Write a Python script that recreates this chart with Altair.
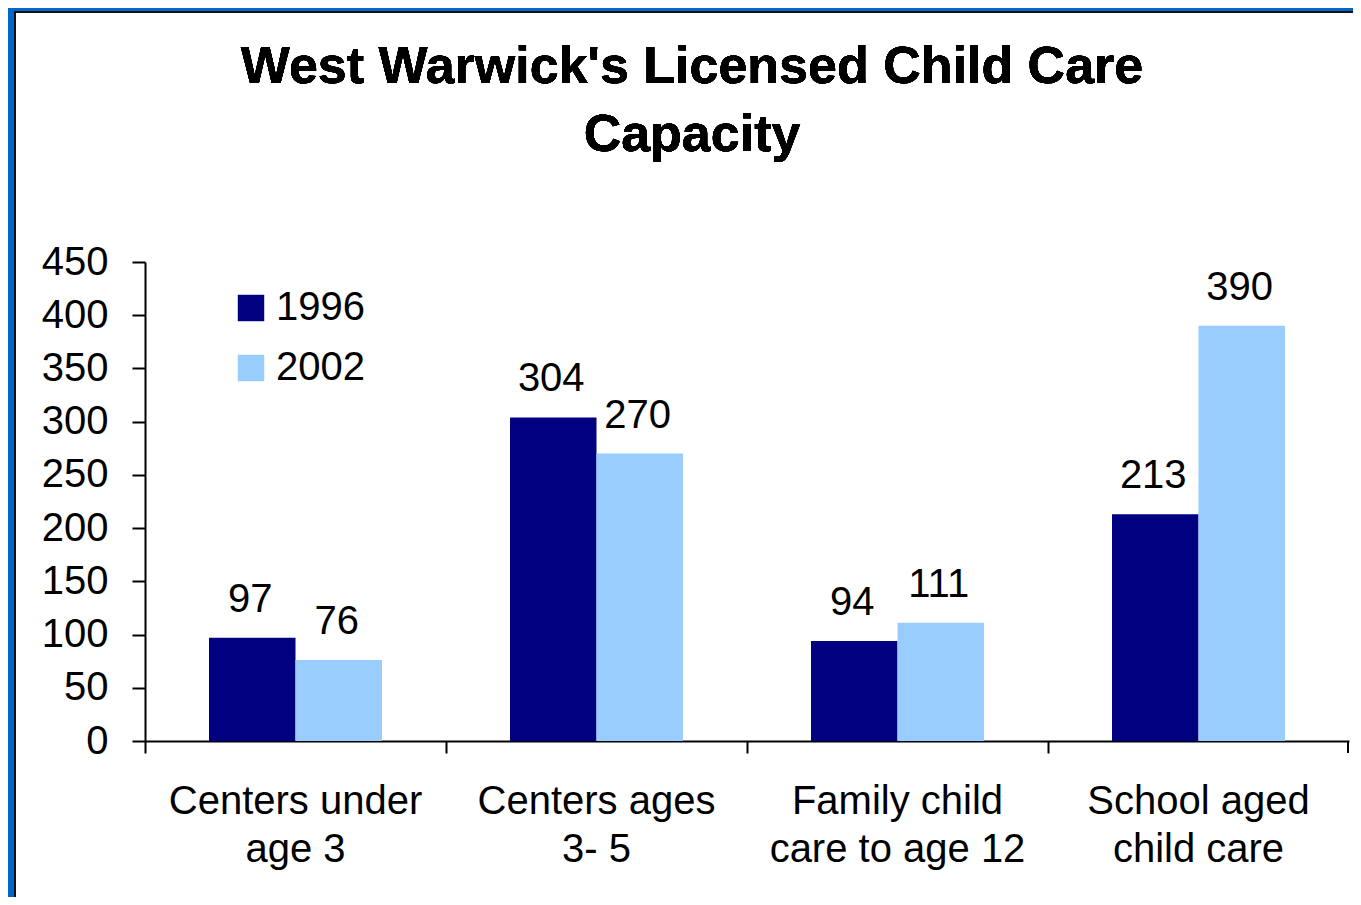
import altair as alt
import pandas as pd

title_lines = ["West Warwick's Licensed Child Care", "Capacity"]
categories = ["Centers under\nage 3", "Centers ages\n3- 5", "Family child\ncare to age 12", "School aged\nchild care"]
years = ["1996", "2002"]
values_1996 = [97, 304, 94, 213]
values_2002 = [76, 270, 111, 390]
y_ticks = [0, 50, 100, 150, 200, 250, 300, 350, 400, 450]
colors = ["#000080", "#99CCFF"]

rows = []
for c, v in zip(categories, values_1996):
    rows.append({"category": c, "year": "1996", "value": v})
for c, v in zip(categories, values_2002):
    rows.append({"category": c, "year": "2002", "value": v})
df = pd.DataFrame(rows)

FONT = "Liberation Sans"
W, H = 1204, 479

x_enc = alt.X("category:N", sort=categories, title=None,
              scale=alt.Scale(paddingInner=0, paddingOuter=0),
              axis=alt.Axis(labelExpr="split(datum.label, '\\n')", labelAngle=0, labelLimit=0,
                            labelFontSize=40, labelFont=FONT, labelColor="black",
                            labelLineHeight=48, labelPadding=28, labelBaseline="top",
                            tickSize=12, tickWidth=2, tickColor="black", bandPosition=0,
                            domainColor="black", domainWidth=2, grid=False))
xoff = alt.XOffset("year:N", sort=years, scale=alt.Scale(paddingInner=0, paddingOuter=0.74))
y_enc = alt.Y("value:Q", title=None,
              scale=alt.Scale(domain=[0, 450], nice=False),
              axis=alt.Axis(values=y_ticks, labelFontSize=40, labelFont=FONT, labelColor="black",
                            labelPadding=24, tickSize=13, tickWidth=2, tickColor="black",
                            domainColor="black", domainWidth=2, grid=False))

base = alt.Chart(df)

bars = base.mark_bar(clip=False, xOffset=-2).encode(
    x=x_enc, xOffset=xoff, y=y_enc,
    color=alt.Color("year:N", sort=years,
                    scale=alt.Scale(domain=years, range=colors),
                    legend=alt.Legend(title=None, orient="none", legendX=86, legendY=26,
                                      symbolType="square", symbolSize=700, symbolStrokeWidth=0,
                                      labelFontSize=40, labelFont=FONT, labelColor="black",
                                      labelOffset=5, rowPadding=20, padding=0,
                                      symbolOpacity=1)),
)

labels = base.mark_text(baseline="alphabetic", dy=-26, dx=-2, fontSize=40, font=FONT, color="black").encode(
    x=alt.X("category:N", sort=categories), xOffset=alt.XOffset("year:N", sort=years), y="value:Q",
    text="value:Q",
)

title = alt.Chart(df).mark_text(text=title_lines, font=FONT, fontSize=52, fontWeight="bold",
                                color="black", lineHeight=68, align="center",
                                baseline="alphabetic").encode(
    x=alt.value(W / 2 - 55), y=alt.value(-179)
)

end_tick = alt.Chart(df).mark_rule(color="black", strokeWidth=2).encode(
    x=alt.value(W - 1), y=alt.value(H), y2=alt.value(H + 12)
)

border_left = alt.Chart(df).mark_rule(color="#0066CC", strokeWidth=6, clip=False).encode(
    x=alt.value(-134), y=alt.value(-254), y2=alt.value(H + 156)
)
border_top = alt.Chart(df).mark_rule(color="#0066CC", strokeWidth=3, clip=False).encode(
    x=alt.value(-137), x2=alt.value(W + 4), y=alt.value(-252.5)
)
inner_left = alt.Chart(df).mark_rule(color="#111111", strokeWidth=2, clip=False).encode(
    x=alt.value(-130), y=alt.value(-251), y2=alt.value(H + 156)
)
inner_top = alt.Chart(df).mark_rule(color="#111111", strokeWidth=2, clip=False).encode(
    x=alt.value(-131), x2=alt.value(W + 4), y=alt.value(-250)
)

chart = alt.layer(bars, labels, title, end_tick, border_left, border_top, inner_left, inner_top).properties(
    width=W, height=H,
    autosize="none",
    padding={"left": 137, "top": 254, "right": 4, "bottom": 156},
    view=alt.ViewBackground(stroke="transparent", strokeWidth=0, strokeOpacity=0),
).configure_view(stroke="transparent", strokeWidth=0, strokeOpacity=0).configure(background="white")

chart.save("out.html", embed_options={"renderer": "svg", "actions": False})
